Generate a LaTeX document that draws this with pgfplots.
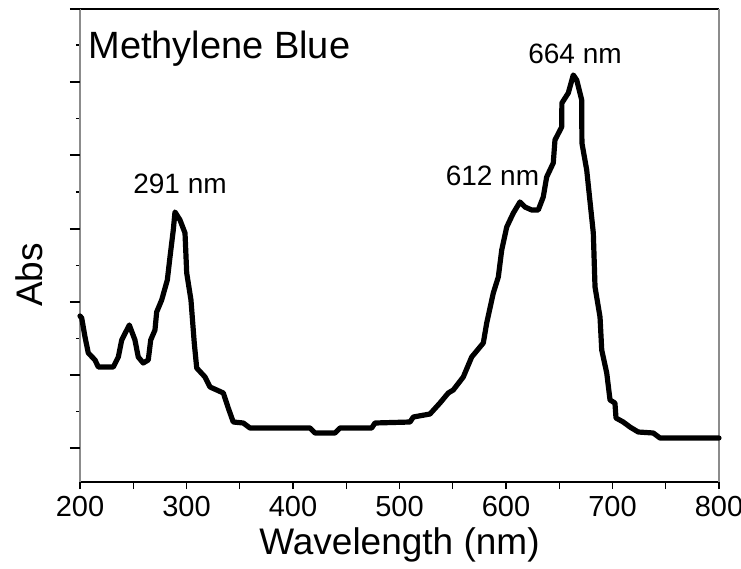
\documentclass[border=0pt]{standalone}
\usepackage{fontspec}
\setmainfont{Liberation Sans}
\usepackage{pgfplots}
\pgfplotsset{compat=1.18}
\begin{document}
\begin{tikzpicture}
\begin{axis}[
  at={(0,0)}, anchor=south west,
  scale only axis,
  width=319.5pt, height=236.5pt,
  xmin=200, xmax=800, ymin=0, ymax=473,
  separate axis lines,
  x axis line style={black, line width=1pt},
  y axis line style={black!45, line width=0.6pt},
  xtick={200,250,...,800},
  xticklabels={200,,300,,400,,500,,600,,700,,800},
  ytick={-100},
  yticklabels={},
  minor ytick={70.5,143.5,216.5,290,363.5,437},
  extra y ticks={34,107,180,253,327,400},
  extra y tick labels={},
  extra y tick style={major tick length=5pt},
  xtick pos=bottom, ytick pos=left,
  tick align=outside,
  major tick length=3.5pt, minor tick length=2pt,
  tick style={black, line width=0.6pt},
  /pgf/number format/assume math mode=true,
  tick label style={font=\fontsize{14.5}{17}\selectfont},
  xticklabel style={anchor=base, yshift=-13.5pt},
  xlabel={Wavelength (nm)},
  ylabel={Abs},
  label style={font=\fontsize{18.5}{22}\selectfont},
  xlabel style={at={(axis description cs:0.5,-0.1543)}, anchor=base},
  ylabel style={at={(axis description cs:-0.0579,0.4376)}, anchor=base},
  clip=false,
]
\addplot[black, line width=2.6pt, line join=round, line cap=round] coordinates {
(200.0,166) (201.6,164) (204.7,145) (207.8,129) (214.1,122) (217.2,115) (231.3,115)
(236.0,125) (239.2,142) (246.3,157) (251.6,142) (254.7,125) (259.4,119) (264.1,122)
(266.4,142) (270.4,152) (272.0,170) (276.7,182) (282.0,202) (284.5,225) (287.6,252)
(289.2,270) (293.9,262) (298.6,249) (300.2,209) (304.2,182) (307.3,139) (309.6,114)
(317.4,105) (322.1,95) (328.4,92) (334.6,89) (339.2,74) (343.9,60) (353.3,59)
(359.6,54) (416.0,54) (420.7,49) (439.4,49) (444.1,54) (473.9,54) (477.0,59)
(509.9,60) (513.0,65) (528.6,68) (538.0,79) (545.8,89) (550.5,92) (559.9,105)
(567.8,125) (578.7,139) (581.9,159) (588.1,189) (592.8,205) (596.0,232) (600.7,255)
(606.9,269) (613.1,280) (617.8,275) (624.1,272) (630.3,272) (635.0,285) (638.2,305)
(644.4,319) (646.0,342) (652.3,355) (652.5,379) (658.5,389) (663.2,407) (666.4,402)
(671.1,382) (671.3,339) (675.8,312) (682.0,249) (683.6,195) (688.3,165) (689.9,132)
(694.6,109) (697.7,82) (702.3,79) (703.3,64) (710.1,60) (716.4,55) (724.2,50)
(738.3,49) (744.6,44) (800.0,44)
};
\node[font=\fontsize{19}{22}\selectfont, anchor=base west, inner sep=0pt] at (axis cs:207.5,424) {Methylene Blue};
\node[font=\fontsize{14}{16}\selectfont, anchor=base, inner sep=0pt] at (axis cs:293.9,289) {291 nm};
\node[font=\fontsize{14}{16}\selectfont, anchor=base, inner sep=0pt] at (axis cs:587.3,297) {612 nm};
\node[font=\fontsize{14}{16}\selectfont, anchor=base, inner sep=0pt] at (axis cs:664.8,419) {664 nm};
\draw[line width=1pt] (axis description cs:-0.0157,1) -- (axis description cs:0,1);
\end{axis}
\pgfresetboundingbox
\useasboundingbox (-40pt,-43.5pt) rectangle (330.5pt,241pt);
\end{tikzpicture}
\end{document}
